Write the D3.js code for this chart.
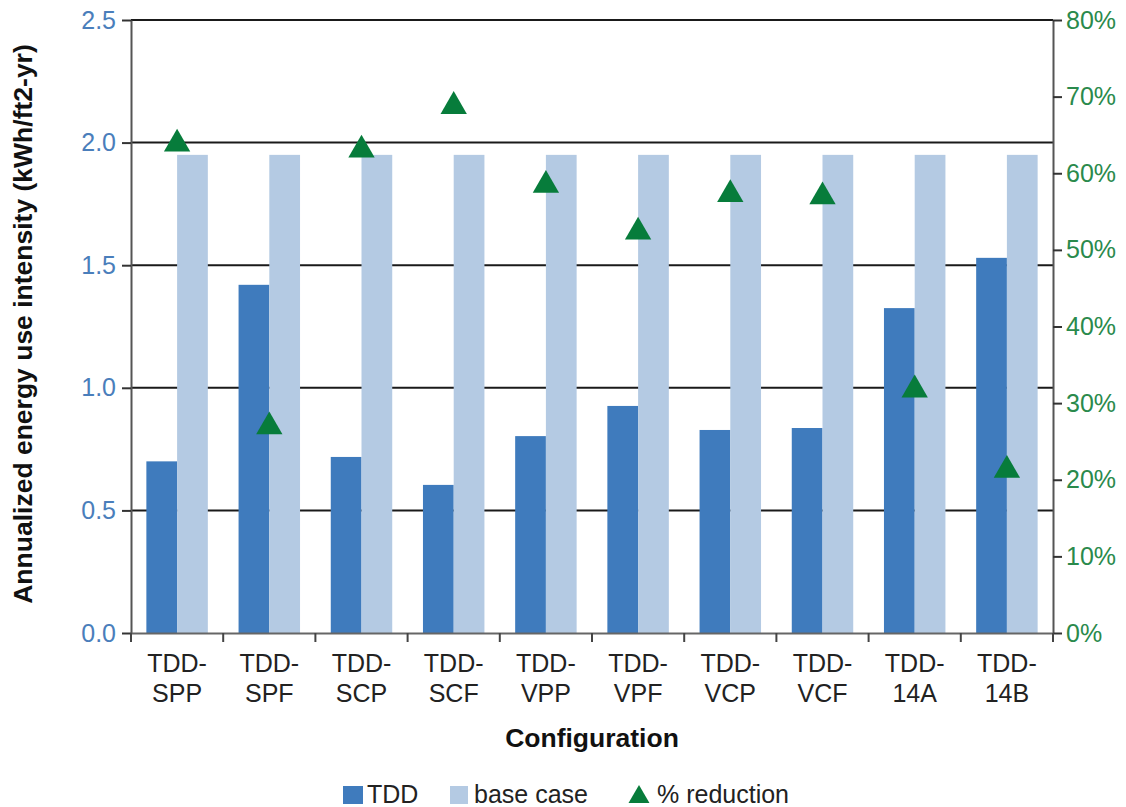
<!DOCTYPE html>
<html><head><meta charset="utf-8">
<script src="https://cdn.jsdelivr.net/npm/d3@7"></script>
<style>body{margin:0;background:#fff}svg{display:block}text{font-family:"Liberation Sans",Arial,sans-serif}</style>
</head><body>
<svg id="c" width="1126" height="807"></svg>
<script>
const categories = ["TDD-SPP","TDD-SPF","TDD-SCP","TDD-SCF","TDD-VPP","TDD-VPF","TDD-VCP","TDD-VCF","TDD-14A","TDD-14B"];
const tddValues = [0.70,1.42,0.718,0.604,0.803,0.926,0.828,0.836,1.325,1.53];
const baseValues = [1.95,1.95,1.95,1.95,1.95,1.95,1.95,1.95,1.95,1.95];
const reductionPct = [64.1,27.2,63.3,69.0,58.7,52.6,57.5,57.2,32.0,21.5];
const leftTicks = [0,0.5,1.0,1.5,2.0,2.5];
const rightTicks = [0,10,20,30,40,50,60,70,80];

const svg = d3.select("#c");
const L = 131, R = 1053, T = 20, B = 633;
const x = d3.scaleBand().domain(categories).range([L, R]).paddingInner(0).paddingOuter(0);
const y = d3.scaleLinear().domain([0, 2.5]).range([B, T]);
const y2 = d3.scaleLinear().domain([0, 80]).range([B, T]);
const inner = d3.scaleBand().domain(["tdd","base"]).range([0, x.bandwidth()]).paddingInner(0).paddingOuter(0.5);

// gridlines
svg.append("g").selectAll("line").data(leftTicks.filter(d => d > 0)).join("line")
  .attr("x1", L).attr("x2", R).attr("y1", d => y(d)).attr("y2", d => y(d))
  .attr("stroke", "#1a1a1a").attr("stroke-width", 2);

// bars
const g = svg.append("g");
g.selectAll("rect.tdd").data(categories).join("rect").attr("class","tdd")
  .attr("x", d => x(d) + inner("tdd")).attr("width", inner.bandwidth())
  .attr("y", (d,i) => y(tddValues[i])).attr("height", (d,i) => B - y(tddValues[i]))
  .attr("fill", "#3F7BBD");
g.selectAll("rect.base").data(categories).join("rect").attr("class","base")
  .attr("x", d => x(d) + inner("base")).attr("width", inner.bandwidth())
  .attr("y", (d,i) => y(baseValues[i])).attr("height", (d,i) => B - y(baseValues[i]))
  .attr("fill", "#B4CAE3");

// triangles
const tri = d3.symbol().type(d3.symbolTriangle).size(300);
svg.append("g").selectAll("path").data(categories).join("path")
  .attr("d", tri)
  .attr("transform", (d,i) => `translate(${x(d) + x.bandwidth()/2},${y2(reductionPct[i]) + 2})`)
  .attr("fill", "#077C3B");

// left axis
const la = svg.append("g").attr("transform", `translate(${L},0)`)
  .call(d3.axisLeft(y).tickValues(leftTicks).tickFormat(d3.format(".1f")).tickSize(9).tickSizeOuter(0));
la.select(".domain").attr("stroke", "#555").attr("stroke-width", 2);
la.selectAll(".tick line").attr("stroke", "#333").attr("stroke-width", 2);
la.selectAll(".tick text").attr("fill", "#4A7EBB").attr("font-size", 25).attr("x", -15).attr("font-family", "Liberation Sans, Arial");

// right axis
const ra = svg.append("g").attr("transform", `translate(${R},0)`)
  .call(d3.axisRight(y2).tickValues(rightTicks).tickFormat(d => d + "%").tickSize(9).tickSizeOuter(0));
ra.select(".domain").attr("stroke", "#555").attr("stroke-width", 2);
ra.selectAll(".tick line").attr("stroke", "#333").attr("stroke-width", 2);
ra.selectAll(".tick text").attr("fill", "#2A8A4C").attr("font-size", 25).attr("x", 13).attr("font-family", "Liberation Sans, Arial");

// bottom axis
const ba = svg.append("g").attr("transform", `translate(0,${B})`)
  .call(d3.axisBottom(x).tickValues([]).tickSizeOuter(0));
ba.select(".domain").attr("stroke", "#666").attr("stroke-width", 2);
svg.append("g").selectAll("line").data(categories.concat(["end"])).join("line")
  .attr("x1", (d,i) => L + i * x.bandwidth()).attr("x2", (d,i) => L + i * x.bandwidth())
  .attr("y1", B).attr("y2", B + 9).attr("stroke", "#444").attr("stroke-width", 2);

// x labels
const xl = svg.append("g").selectAll("text").data(categories).join("text")
  .attr("x", d => x(d) + x.bandwidth()/2).attr("text-anchor", "middle")
  .attr("font-size", 25).attr("fill", "#222");
xl.append("tspan").attr("x", d => x(d) + x.bandwidth()/2).attr("y", 672).text(d => d.split("-")[0] + "-");
xl.append("tspan").attr("x", d => x(d) + x.bandwidth()/2).attr("y", 702).text(d => d.split("-")[1]);

// titles
svg.append("text").attr("x", 592).attr("y", 747).attr("text-anchor", "middle")
  .attr("font-size", 26.5).attr("font-weight", "bold").attr("fill", "#111").text("Configuration");
svg.append("text").attr("transform", "translate(32,324) rotate(-90)").attr("text-anchor", "middle")
  .attr("font-size", 26.5).attr("font-weight", "bold").attr("fill", "#111")
  .text("Annualized energy use intensity (kWh/ft2-yr)");

// legend
const lg = svg.append("g");
lg.append("rect").attr("x", 343).attr("y", 786).attr("width", 20).attr("height", 18).attr("fill", "#3F7BBD");
lg.append("text").attr("x", 367).attr("y", 803).attr("font-size", 25).attr("fill", "#222").text("TDD");
lg.append("rect").attr("x", 450).attr("y", 786).attr("width", 18).attr("height", 18).attr("fill", "#B4CAE3");
lg.append("text").attr("x", 474).attr("y", 803).attr("font-size", 25).attr("fill", "#222").text("base case");
lg.append("path").attr("d", d3.symbol().type(d3.symbolTriangle).size(190)).attr("transform", "translate(639,797)").attr("fill", "#077C3B");
lg.append("text").attr("x", 657).attr("y", 803).attr("font-size", 25).attr("fill", "#222").text("% reduction");
</script>
</body></html>
